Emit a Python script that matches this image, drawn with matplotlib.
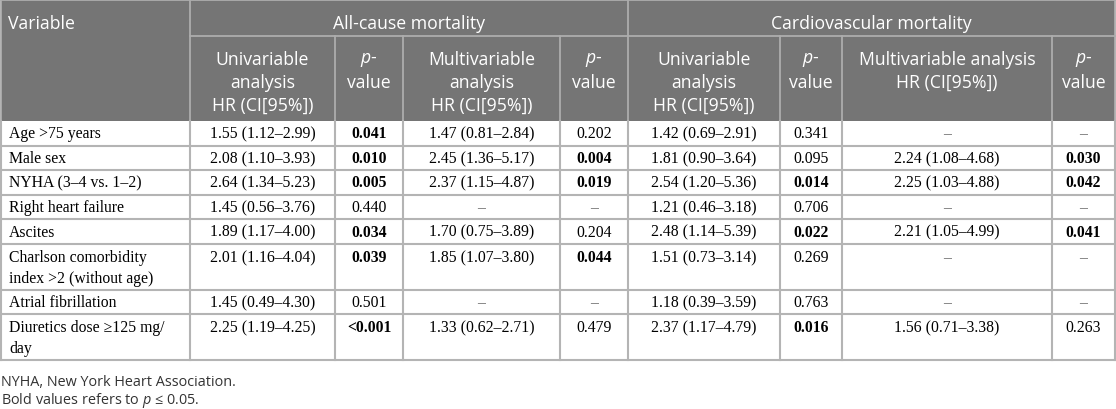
import matplotlib
matplotlib.use("Agg")
import matplotlib.pyplot as plt
from matplotlib.patches import Rectangle

plt.rcParams["mathtext.fontset"] = "custom"
plt.rcParams["mathtext.it"] = "Open Sans:italic"
plt.rcParams["mathtext.rm"] = "Open Sans"

# ---------------- data ----------------
variables = ["Age >75 years", "Male sex", "NYHA (3–4 vs. 1–2)", "Right heart failure",
             "Ascites", "Charlson comorbidity\nindex >2 (without age)", "Atrial fibrillation",
             "Diuretics dose ≥125 mg/\nday"]
ac_uni_hr = ["1.55 (1.12–2.99)", "2.08 (1.10–3.93)", "2.64 (1.34–5.23)", "1.45 (0.56–3.76)",
             "1.89 (1.17–4.00)", "2.01 (1.16–4.04)", "1.45 (0.49–4.30)", "2.25 (1.19–4.25)"]
ac_uni_p = ["0.041", "0.010", "0.005", "0.440", "0.034", "0.039", "0.501", "<0.001"]
ac_multi_hr = ["1.47 (0.81–2.84)", "2.45 (1.36–5.17)", "2.37 (1.15–4.87)", "–",
               "1.70 (0.75–3.89)", "1.85 (1.07–3.80)", "–", "1.33 (0.62–2.71)"]
ac_multi_p = ["0.202", "0.004", "0.019", "–", "0.204", "0.044", "–", "0.479"]
cv_uni_hr = ["1.42 (0.69–2.91)", "1.81 (0.90–3.64)", "2.54 (1.20–5.36)", "1.21 (0.46–3.18)",
             "2.48 (1.14–5.39)", "1.51 (0.73–3.14)", "1.18 (0.39–3.59)", "2.37 (1.17–4.79)"]
cv_uni_p = ["0.341", "0.095", "0.014", "0.706", "0.022", "0.269", "0.763", "0.016"]
cv_multi_hr = ["–", "2.24 (1.08–4.68)", "2.25 (1.03–4.88)", "–",
               "2.21 (1.05–4.99)", "–", "–", "1.56 (0.71–3.38)"]
cv_multi_p = ["–", "0.030", "0.042", "–", "0.041", "–", "–", "0.263"]

group_titles = ["All-cause mortality", "Cardiovascular mortality"]
sub_headers = ["Univariable\nanalysis\nHR (CI[95%])", "$\\it{p}$-\nvalue",
               "Multivariable\nanalysis\nHR (CI[95%])", "$\\it{p}$-\nvalue",
               "Univariable\nanalysis\nHR (CI[95%])", "$\\it{p}$-\nvalue",
               "Multivariable analysis\nHR (CI[95%])", "$\\it{p}$-\nvalue"]
footnotes = ["NYHA, New York Heart Association.", "Bold values refers to $\\it{p}$ ≤ 0.05."]

# ---------------- layout ----------------
W, H = 1116, 410
col_x = [1, 190, 335, 403, 560, 628, 780, 842, 1052, 1115]
head_top, head_mid, head_bot = 1, 37, 122
row_h = [24.6, 24.6, 24.6, 24.6, 24.6, 45.8, 24.6, 45.8]

HEAD_BG = "#757575"
HEAD_LINE = "#adadad"
GRID = "#b4b4b4"
SANS = ["Open Sans", "DejaVu Sans"]
SERIF = ["Liberation Serif", "DejaVu Serif"]

fig = plt.figure(figsize=(W / 100, H / 100), dpi=100)
ax = fig.add_axes([0, 0, 1, 1])
ax.set_xlim(0, W)
ax.set_ylim(H, 0)
ax.axis("off")

# header background
ax.add_patch(Rectangle((col_x[0], head_top), col_x[-1] - col_x[0], head_bot - head_top,
                       facecolor=HEAD_BG, edgecolor="none"))
# header lines
ax.plot([col_x[1], col_x[-1]], [head_mid, head_mid], color=HEAD_LINE, lw=1.3)
ax.plot([col_x[0], col_x[-1]], [head_top, head_top], color=HEAD_LINE, lw=1.3)
for i, x in enumerate(col_x):
    if i in (0, 1, 5, 9):
        ax.plot([x, x], [head_top, head_bot], color=HEAD_LINE, lw=1.3)
    else:
        ax.plot([x, x], [head_mid, head_bot], color=HEAD_LINE, lw=1.3)

# header text
hs = 12.7
ax.text(col_x[0] + 7, 24, "Variable", color="white", fontsize=hs, family=SANS,
        ha="left", va="center")
ax.text((col_x[1] + col_x[5]) / 2, 24, group_titles[0], color="white", fontsize=hs,
        family=SANS, ha="center", va="center")
ax.text((col_x[5] + col_x[9]) / 2, 24, group_titles[1], color="white", fontsize=hs,
        family=SANS, ha="center", va="center")
for j, txt in enumerate(sub_headers):
    cx = (col_x[j + 1] + col_x[j + 2]) / 2
    for k, line in enumerate(txt.split("\n")):
        ax.text(cx, 60 + 23 * k, line, color="white", fontsize=hs, family=SANS,
                ha="center", va="center")

# body
columns = [ac_uni_hr, ac_uni_p, ac_multi_hr, ac_multi_p, cv_uni_hr, cv_uni_p, cv_multi_hr, cv_multi_p]
pcols = {1, 3, 5, 7}
bs = 11.3


def is_bold(v):
    if v == "–":
        return False
    return float(v.replace("<", "")) <= 0.05


y = head_bot
for r, name in enumerate(variables):
    h = row_h[r]
    lines = name.split("\n")
    if len(lines) == 1:
        ys = [y + h / 2]
    else:
        ys = [y + 13 + 21 * k for k in range(len(lines))]
    for k, line in enumerate(lines):
        ax.text(col_x[0] + 8, ys[k], line, fontsize=bs, family=SERIF, ha="left",
                va="center", color="black")
    for j, col in enumerate(columns):
        v = col[r]
        cx = (col_x[j + 1] + col_x[j + 2]) / 2
        bold = (j in pcols) and is_bold(v)
        ax.text(cx, ys[0], v, fontsize=bs, family=SERIF, ha="center", va="center",
                color="#666666" if v == "–" else "black",
                fontweight="bold" if bold else "normal")
    y += h
    ax.plot([col_x[0], col_x[-1]], [y, y], color=GRID, lw=1.5)

body_bot = y
for x in col_x:
    ax.plot([x, x], [head_bot, body_bot], color=GRID, lw=1.5)

# footnotes
for k, t in enumerate(footnotes):
    ax.text(1, 383 + 18 * k, t, fontsize=10.4, family=SANS, ha="left", va="center",
            color="#333333")

fig.savefig("out.png", dpi=100)
